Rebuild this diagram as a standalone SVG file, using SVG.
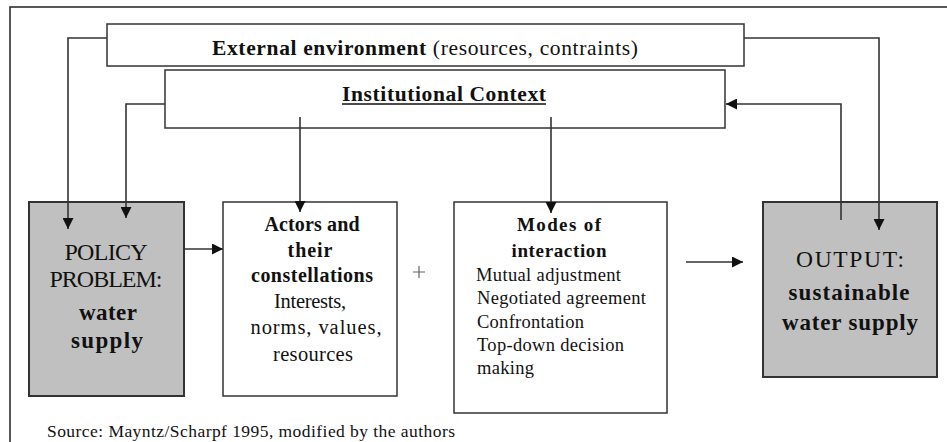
<svg xmlns="http://www.w3.org/2000/svg" width="947" height="442" viewBox="0 0 947 442">
<style>
.box{fill:#fff;stroke:#333;stroke-width:1.5}
.gray{fill:#c0c0c0;stroke:#333;stroke-width:2}
.ln{fill:none;stroke:#333;stroke-width:1.6}
text{font-family:"Liberation Serif","DejaVu Serif",serif;fill:#111}
.b{font-weight:bold}
.c{text-anchor:middle}
</style>
<defs>
<marker id="ah" viewBox="0 0 10 10" refX="10" refY="5" markerWidth="12" markerHeight="11" markerUnits="userSpaceOnUse" orient="auto">
<path d="M0,0 L10,5 L0,10 z" fill="#111"/>
</marker>
</defs>
<rect width="947" height="442" fill="#fff"/>
<path d="M10,442 V7 H947" fill="none" stroke="#222" stroke-width="1.5"/>

<g id="external">
<rect class="box" x="107" y="24" width="637" height="42"/>
<text x="425" y="55" class="c" font-size="21.5" textLength="426" lengthAdjust="spacing"><tspan class="b">External environment</tspan> (resources, contraints)</text>
</g>
<g id="institutional">
<rect class="box" x="165" y="70" width="560" height="58"/>
<text x="444" y="101" class="c b" font-size="21.5" textLength="204" lengthAdjust="spacing">Institutional Context</text>
<line x1="342" y1="104" x2="546" y2="104" stroke="#111" stroke-width="1.3"/>
</g>

<g id="policy">
<rect class="gray" x="29" y="202" width="155" height="194"/>
<text x="106" y="260" class="c" font-size="24" textLength="83" lengthAdjust="spacing">POLICY</text>
<text x="106" y="287" class="c" font-size="24" textLength="113" lengthAdjust="spacing">PROBLEM:</text>
<text x="108" y="320" class="c b" font-size="23" textLength="58" lengthAdjust="spacing">water</text>
<text x="107" y="348" class="c b" font-size="23" textLength="72" lengthAdjust="spacing">supply</text>
</g>

<g id="actors">
<rect class="box" x="223" y="202" width="174" height="194"/>
<text x="312" y="231" class="c b" font-size="20" textLength="95" lengthAdjust="spacing">Actors and</text>
<text x="310" y="257" class="c b" font-size="20" textLength="45" lengthAdjust="spacing">their</text>
<text x="312" y="282" class="c b" font-size="20" textLength="122" lengthAdjust="spacing">constellations</text>
<text x="310" y="308" class="c" font-size="20.5" textLength="72" lengthAdjust="spacing">Interests,</text>
<text x="316" y="334" class="c" font-size="20.5" textLength="131" lengthAdjust="spacing">norms, values,</text>
<text x="313" y="361" class="c" font-size="20.5" textLength="80" lengthAdjust="spacing">resources</text>
</g>

<g id="plus">
<path d="M413,272 H425 M419,266 V278" stroke="#666" stroke-width="1.2" fill="none"/>
</g>

<g id="modes">
<rect class="box" x="454" y="202" width="213" height="211"/>
<text x="559" y="231" class="c b" font-size="19" textLength="84" lengthAdjust="spacing">Modes of</text>
<text x="559" y="257" class="c b" font-size="19" textLength="95" lengthAdjust="spacing">interaction</text>
<text x="476" y="281" font-size="18.5" textLength="145" lengthAdjust="spacing">Mutual adjustment</text>
<text x="477" y="304" font-size="18.5" textLength="169" lengthAdjust="spacing">Negotiated agreement</text>
<text x="477" y="328" font-size="18.5" textLength="107" lengthAdjust="spacing">Confrontation</text>
<text x="477" y="351" font-size="18.5" textLength="147" lengthAdjust="spacing">Top-down decision</text>
<text x="477" y="374" font-size="18.5" textLength="57" lengthAdjust="spacing">making</text>
</g>

<g id="output">
<rect class="gray" x="763" y="202" width="174" height="175"/>
<text x="850" y="267" class="c" font-size="23.5" textLength="108" lengthAdjust="spacing">OUTPUT:</text>
<text x="849" y="300" class="c b" font-size="23" textLength="121" lengthAdjust="spacing">sustainable</text>
<text x="850" y="330" class="c b" font-size="23" textLength="136" lengthAdjust="spacing">water supply</text>
</g>

<g id="connectors">
<path class="ln" d="M107,38 H68 V229" marker-end="url(#ah)"/>
<path class="ln" d="M165,104 H126 V218" marker-end="url(#ah)"/>
<path class="ln" d="M300,117 V212" marker-end="url(#ah)"/>
<path class="ln" d="M551,117 V213" marker-end="url(#ah)"/>
<path class="ln" d="M744,38 H879 V230" marker-end="url(#ah)"/>
<path class="ln" d="M841,220 V104 H726" marker-end="url(#ah)"/>
<path class="ln" d="M184,249 H223" marker-end="url(#ah)"/>
<path class="ln" d="M686,262 H743" marker-end="url(#ah)"/>
</g>

<g id="source">
<text x="47" y="437" font-size="17.5" textLength="408" lengthAdjust="spacing">Source: Mayntz/Scharpf 1995, modified by the authors</text>
</g>
</svg>
